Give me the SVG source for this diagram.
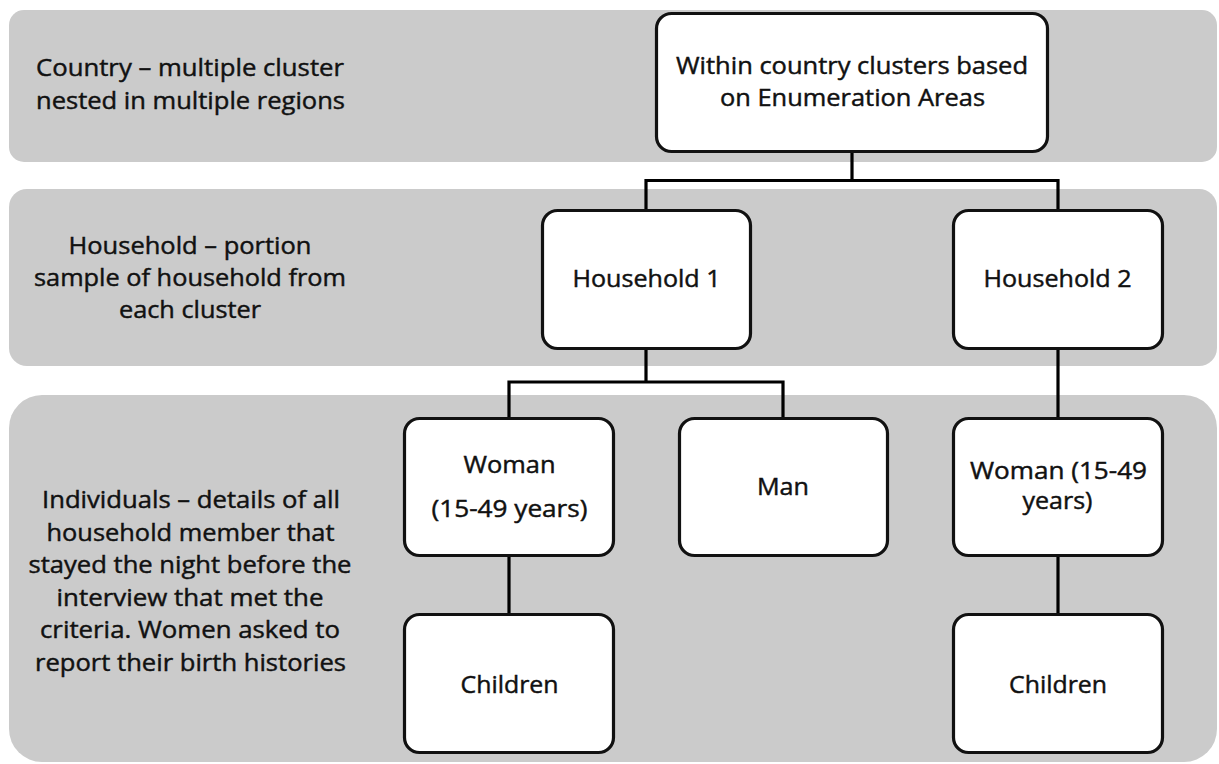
<svg xmlns="http://www.w3.org/2000/svg" width="1219" height="764" viewBox="0 0 1219 764">
  <style>
    .band { fill: #cbcbcb; }
    .node rect { fill: #ffffff; stroke: #111111; stroke-width: 3.2; }
    text { font-family: "Open Sans", "Liberation Sans", sans-serif; font-size: 24px; fill: #111111; stroke: #111111; stroke-width: 0.45; }
    .mid { text-anchor: middle; }
    .link { fill: none; stroke: #000000; stroke-width: 3.2; stroke-linejoin: miter; stroke-linecap: butt; }
  </style>

  <!-- level bands -->
  <g id="bands">
    <rect class="band" x="9" y="10" width="1208" height="152" rx="15"/>
    <rect class="band" x="9" y="189" width="1208" height="177" rx="18"/>
    <rect class="band" x="9" y="395" width="1208" height="367" rx="33"/>
  </g>

  <!-- level descriptions -->
  <g id="label-country">
    <text x="36" y="76" textLength="308" lengthAdjust="spacingAndGlyphs">Country – multiple cluster</text>
    <text x="36" y="109" textLength="309" lengthAdjust="spacingAndGlyphs">nested in multiple regions</text>
  </g>
  <g id="label-household" class="mid">
    <text x="190" y="254" textLength="243" lengthAdjust="spacingAndGlyphs">Household – portion</text>
    <text x="190" y="286" textLength="312" lengthAdjust="spacingAndGlyphs">sample of household from</text>
    <text x="190" y="318" textLength="142" lengthAdjust="spacingAndGlyphs">each cluster</text>
  </g>
  <g id="label-individuals" class="mid">
    <text x="191" y="508" textLength="298" lengthAdjust="spacingAndGlyphs">Individuals – details of all</text>
    <text x="190.5" y="540.5" textLength="288" lengthAdjust="spacingAndGlyphs">household member that</text>
    <text x="190" y="573" textLength="323" lengthAdjust="spacingAndGlyphs">stayed the night before the</text>
    <text x="190" y="605.5" textLength="267" lengthAdjust="spacingAndGlyphs">interview that met the</text>
    <text x="190" y="638" textLength="300" lengthAdjust="spacingAndGlyphs">criteria. Women asked to</text>
    <text x="190.5" y="670.5" textLength="311" lengthAdjust="spacingAndGlyphs">report their birth histories</text>
  </g>

  <!-- connectors -->
  <g id="connectors">
    <path class="link" d="M852 153 V180.5 M646 210 V180.5 H1058 V210"/>
    <path class="link" d="M646 350 V382 M509 417 V382 H783 V417"/>
    <path class="link" d="M1058 350 V417"/>
    <path class="link" d="M509 557 V613"/>
    <path class="link" d="M1058 557 V613"/>
  </g>

  <!-- hierarchy nodes -->
  <g id="node-clusters" class="node">
    <rect x="656.5" y="13.5" width="391" height="138" rx="15"/>
    <text class="mid" x="852" y="74" textLength="352" lengthAdjust="spacingAndGlyphs">Within country clusters based</text>
    <text class="mid" x="852.5" y="106" textLength="265" lengthAdjust="spacingAndGlyphs">on Enumeration Areas</text>
  </g>
  <g id="node-household-1" class="node">
    <rect x="542.5" y="210.5" width="208" height="138" rx="15"/>
    <text class="mid" x="646.5" y="287" textLength="148" lengthAdjust="spacingAndGlyphs">Household 1</text>
  </g>
  <g id="node-household-2" class="node">
    <rect x="953.5" y="210.5" width="209" height="138" rx="15"/>
    <text class="mid" x="1057.5" y="287" textLength="148" lengthAdjust="spacingAndGlyphs">Household 2</text>
  </g>
  <g id="node-woman-1" class="node">
    <rect x="404.5" y="418.5" width="209" height="137" rx="15"/>
    <text class="mid" x="509.5" y="473" textLength="92" lengthAdjust="spacingAndGlyphs">Woman</text>
    <text class="mid" x="509.5" y="517" textLength="156" lengthAdjust="spacingAndGlyphs">(15-49 years)</text>
  </g>
  <g id="node-man" class="node">
    <rect x="679.5" y="418.5" width="208" height="137" rx="15"/>
    <text class="mid" x="783" y="495" textLength="52" lengthAdjust="spacingAndGlyphs">Man</text>
  </g>
  <g id="node-woman-2" class="node">
    <rect x="953.5" y="418.5" width="209" height="137" rx="15"/>
    <text class="mid" x="1058.5" y="479" textLength="177" lengthAdjust="spacingAndGlyphs">Woman (15-49</text>
    <text class="mid" x="1057.5" y="509" textLength="70" lengthAdjust="spacingAndGlyphs">years)</text>
  </g>
  <g id="node-children-1" class="node">
    <rect x="404.5" y="614.5" width="209" height="138" rx="15"/>
    <text class="mid" x="509.5" y="693" textLength="98" lengthAdjust="spacingAndGlyphs">Children</text>
  </g>
  <g id="node-children-2" class="node">
    <rect x="953.5" y="614.5" width="209" height="138" rx="15"/>
    <text class="mid" x="1058" y="693" textLength="98" lengthAdjust="spacingAndGlyphs">Children</text>
  </g>
</svg>
